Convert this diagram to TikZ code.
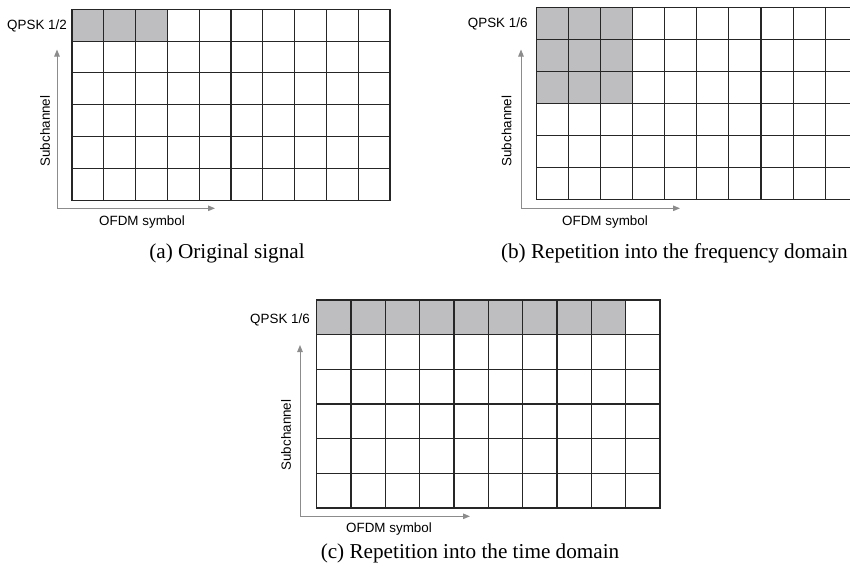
\documentclass[tikz,border=0pt]{standalone}
\usepackage{fontspec}
\setmainfont{Liberation Serif}
\setsansfont{Liberation Sans}
\usetikzlibrary{arrows.meta}
\definecolor{cellgray}{RGB}{190,190,193}
\definecolor{axisgray}{RGB}{140,140,140}

\begin{document}
\begin{tikzpicture}[x=1pt, y=-1pt,
    cell/.style={draw=black!85, line width=1.1pt, inner sep=0pt, outer sep=0pt},
    axis/.style={draw=axisgray, line width=1pt, {Triangle[length=7pt,width=5.5pt]}-{Triangle[length=7pt,width=5.5pt]}},
    lbl/.style={font=\sffamily\fontsize{13.4}{16}\selectfont, inner sep=0pt},
    captxt/.style={font=\rmfamily\fontsize{21.2}{25}\selectfont, inner sep=0pt}]
  \useasboundingbox (0,0) rectangle (850,573);
  % (a) original signal
  \foreach \c in {1,...,10} {
    \foreach \r in {1,...,6} {
      \pgfmathtruncatemacro\on{\c<4 && \r<2}
      \ifnum\on=1 \def\fc{cellgray}\else\def\fc{white}\fi
      \node[cell, fill=\fc, minimum width=31.8pt, minimum height=31.8pt] (a-\c-\r) at ({72+31.8*(\c-0.5)},{9.3+31.8*(\r-0.5)}) {};
    }
  }
  \coordinate (a-up) at (57,49.5);
  \coordinate (a-rt) at (215,208.3);
  \draw[axis] (a-up) |- (a-rt);
  \node[lbl, anchor=east] (a-q) at (67,25.5) {QPSK 1/2};
  \node[lbl, rotate=90] (a-s) at (45,131) {Subchannel};
  \node[lbl] (a-x) at (142,222) {OFDM symbol};
  \node[captxt] (a-cap) at (227,253) {(a) Original signal};
  % (b) frequency domain
  \foreach \c in {1,...,10} {
    \foreach \r in {1,...,6} {
      \pgfmathtruncatemacro\on{\c<4 && \r<4}
      \ifnum\on=1 \def\fc{cellgray}\else\def\fc{white}\fi
      \node[cell, fill=\fc, minimum width=32.1pt, minimum height=32.1pt] (b-\c-\r) at ({536.3+32.1*(\c-0.5)},{7.3+32.1*(\r-0.5)}) {};
    }
  }
  \coordinate (b-up) at (521,49.5);
  \coordinate (b-rt) at (680,208.3);
  \draw[axis] (b-up) |- (b-rt);
  \node[lbl, anchor=east] (b-q) at (527.7,24) {QPSK 1/6};
  \node[lbl, rotate=90] (b-s) at (506.7,131) {Subchannel};
  \node[lbl] (b-x) at (605,222) {OFDM symbol};
  \node[captxt] (b-cap) at (674.4,253) {(b) Repetition into the frequency domain};
  % (c) time domain
  \foreach \c in {1,...,10} {
    \foreach \r in {1,...,6} {
      \pgfmathtruncatemacro\on{\c<10 && \r<2}
      \ifnum\on=1 \def\fc{cellgray}\else\def\fc{white}\fi
      \node[cell, fill=\fc, minimum width=34.33pt, minimum height=34.67pt] (c-\c-\r) at ({316.7+34.33*(\c-0.5)},{300+34.67*(\r-0.5)}) {};
    }
  }
  \coordinate (c-up) at (300,345);
  \coordinate (c-rt) at (470,516.3);
  \draw[axis] (c-up) |- (c-rt);
  \node[lbl, anchor=east] (c-q) at (310,320) {QPSK 1/6};
  \node[lbl, rotate=90] (c-s) at (286,435) {Subchannel};
  \node[lbl] (c-x) at (389,529) {OFDM symbol};
  \node[captxt] (c-cap) at (470,553) {(c) Repetition into the time domain};
\end{tikzpicture}
\end{document}
